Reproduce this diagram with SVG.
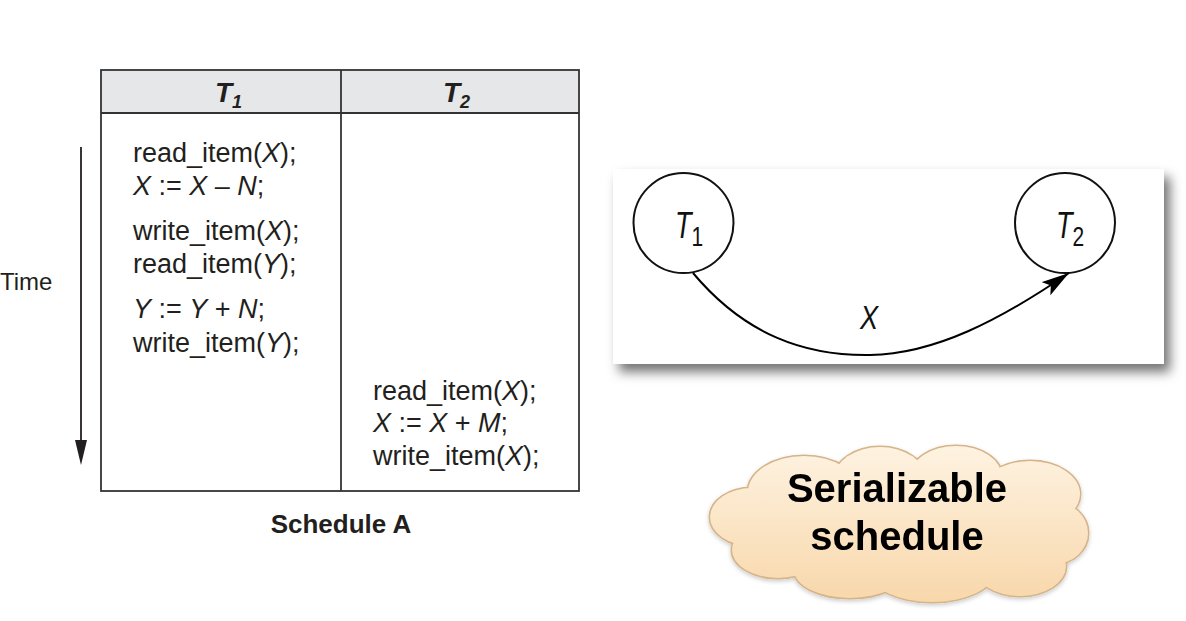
<svg xmlns="http://www.w3.org/2000/svg" width="1186" height="621" viewBox="0 0 1186 621">
  <defs>
    <style>
      .code { font-family: "Liberation Sans", Arial, sans-serif; font-size: 27px; fill: #231f20; }
      .it { font-style: italic; }
      .tbl { fill: none; stroke: #333; stroke-width: 1.8; }
      .node { fill: #fff; stroke: #111; stroke-width: 2; }
      .lbl { font-family: "Liberation Sans", Arial, sans-serif; font-style: italic; fill: #111; }
      .cloudtxt { font-family: "Liberation Sans", Arial, sans-serif; font-weight: bold; font-size: 40px; fill: #000; text-anchor: middle; }
    </style>
    <marker id="ah" markerUnits="userSpaceOnUse" markerWidth="30" markerHeight="18" refX="28" refY="8" orient="auto">
      <path d="M0,0 L28,8 L0,16 L6,8 Z" fill="#000"/>
    </marker>
    <filter id="panelShadow" x="-10%" y="-20%" width="125%" height="150%">
      <feDropShadow dx="6" dy="8" stdDeviation="6" flood-color="#000" flood-opacity="0.55"/>
    </filter>
    <filter id="cloudShadow" x="-10%" y="-10%" width="120%" height="130%">
      <feDropShadow dx="0" dy="2" stdDeviation="2" flood-color="#000" flood-opacity="0.2"/>
    </filter>
    <linearGradient id="cloudGrad" gradientUnits="userSpaceOnUse" x1="0" y1="444" x2="0" y2="604">
      <stop offset="0" stop-color="#fef3e2"/>
      <stop offset="1" stop-color="#f8d7aa"/>
    </linearGradient>
  </defs>

  <rect x="0" y="0" width="1186" height="621" fill="#fff"/>

  <!-- Schedule A table -->
  <g id="schedule-table">
    <rect x="101" y="70" width="478" height="43" fill="#e6e7e8"/>
    <rect class="tbl" x="101" y="70" width="478" height="421"/>
    <line class="tbl" x1="101" y1="113" x2="579" y2="113"/>
    <line class="tbl" x1="341" y1="70" x2="341" y2="491"/>
    <text x="215" y="102" font-family="Liberation Sans, Arial, sans-serif" font-weight="bold" font-style="italic" font-size="28" fill="#231f20">T<tspan dy="6" font-size="18">1</tspan></text>
    <text x="443" y="102" font-family="Liberation Sans, Arial, sans-serif" font-weight="bold" font-style="italic" font-size="28" fill="#231f20">T<tspan dy="6" font-size="18">2</tspan></text>

    <text class="code" x="133" y="162">read_item(<tspan class="it">X</tspan>);</text>
    <text class="code" x="133" y="195"><tspan class="it">X</tspan> := <tspan class="it">X</tspan> – <tspan class="it">N</tspan>;</text>
    <text class="code" x="133" y="240">write_item(<tspan class="it">X</tspan>);</text>
    <text class="code" x="133" y="273">read_item(<tspan class="it">Y</tspan>);</text>
    <text class="code" x="133" y="318"><tspan class="it">Y</tspan> := <tspan class="it">Y</tspan> + <tspan class="it">N</tspan>;</text>
    <text class="code" x="133" y="352">write_item(<tspan class="it">Y</tspan>);</text>

    <text class="code" x="373" y="400">read_item(<tspan class="it">X</tspan>);</text>
    <text class="code" x="373" y="432"><tspan class="it">X</tspan> := <tspan class="it">X</tspan> + <tspan class="it">M</tspan>;</text>
    <text class="code" x="373" y="465">write_item(<tspan class="it">X</tspan>);</text>

    <text x="341" y="533" text-anchor="middle" font-family="Liberation Sans, Arial, sans-serif" font-weight="bold" font-size="26" fill="#231f20">Schedule A</text>
  </g>

  <!-- Time axis -->
  <g id="time-axis">
    <text x="0" y="290" font-family="Liberation Sans, Arial, sans-serif" font-size="24" fill="#231f20">Time</text>
    <line x1="81" y1="147" x2="81" y2="445" stroke="#231f20" stroke-width="1.8"/>
    <polygon points="75,440 87,440 81,465" fill="#231f20"/>
  </g>

  <!-- Precedence graph panel -->
  <g id="graph-panel">
    <rect x="613" y="169" width="551" height="195" fill="#fff" filter="url(#panelShadow)"/>
  </g>

  <g id="node-T1">
    <circle class="node" cx="683.5" cy="223" r="50"/>
    <text class="lbl" font-size="36" transform="matrix(0.75 0 0 1 675 238)">T<tspan dy="8" font-size="28" font-style="normal">1</tspan></text>
  </g>

  <g id="node-T2">
    <circle class="node" cx="1065" cy="223" r="50"/>
    <text class="lbl" font-size="36" transform="matrix(0.75 0 0 1 1056 238)">T<tspan dy="8" font-size="28" font-style="normal">2</tspan></text>
  </g>

  <g id="connectors">
    <path d="M693,273 C745,335 805,356 870,355 C935,354 1000,320 1069,273" fill="none" stroke="#000" stroke-width="2" marker-end="url(#ah)"/>
    <text class="lbl" font-size="34" transform="matrix(0.8 0 0 1 860 329)">X</text>
  </g>

  <!-- Cloud callout -->
  <g id="cloud" filter="url(#cloudShadow)">
    <g fill="none" stroke="#d6b48a" stroke-width="3">
      <ellipse cx="900" cy="524" rx="150" ry="58"/>
      <ellipse cx="752" cy="517" rx="42" ry="29"/>
      <ellipse cx="778" cy="550" rx="46" ry="28"/>
      <ellipse cx="804" cy="492" rx="56" ry="36"/>
      <ellipse cx="880" cy="479" rx="46" ry="32"/>
      <ellipse cx="956" cy="477" rx="46" ry="31"/>
      <ellipse cx="1030" cy="494" rx="50" ry="33"/>
      <ellipse cx="1054" cy="533" rx="34" ry="31"/>
      <ellipse cx="1020" cy="566" rx="46" ry="30"/>
      <ellipse cx="932" cy="572" rx="62" ry="30"/>
      <ellipse cx="850" cy="570" rx="56" ry="28"/>
    </g>
    <g fill="url(#cloudGrad)" stroke="none">
      <ellipse cx="900" cy="524" rx="150" ry="58"/>
      <ellipse cx="752" cy="517" rx="42" ry="29"/>
      <ellipse cx="778" cy="550" rx="46" ry="28"/>
      <ellipse cx="804" cy="492" rx="56" ry="36"/>
      <ellipse cx="880" cy="479" rx="46" ry="32"/>
      <ellipse cx="956" cy="477" rx="46" ry="31"/>
      <ellipse cx="1030" cy="494" rx="50" ry="33"/>
      <ellipse cx="1054" cy="533" rx="34" ry="31"/>
      <ellipse cx="1020" cy="566" rx="46" ry="30"/>
      <ellipse cx="932" cy="572" rx="62" ry="30"/>
      <ellipse cx="850" cy="570" rx="56" ry="28"/>
    </g>
    <text class="cloudtxt" x="897" y="502">Serializable</text>
    <text class="cloudtxt" x="897" y="550">schedule</text>
  </g>
</svg>
